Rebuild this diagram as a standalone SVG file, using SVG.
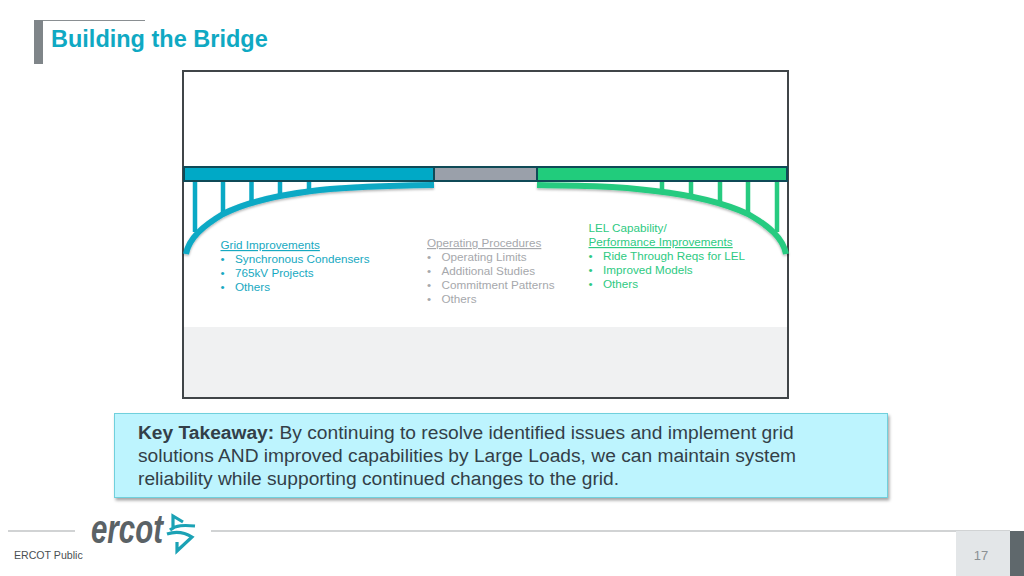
<svg xmlns="http://www.w3.org/2000/svg" width="1024" height="576" viewBox="0 0 1024 576">
<defs>
<style>
text{font-family:"Liberation Sans",Arial,sans-serif}
.l{font-size:11.700px}
.t{fill:#17a9c1}.g{fill:#a6a8ac}.e{fill:#2dca82}
.deck{stroke:#0f4a57;stroke-width:2}
.arch{fill:none;stroke-width:6}
.post{stroke-width:4.500;fill:none}
.k{font-size:19.200px;fill:#333f48}
</style>
<filter id="sh" x="-5%" y="-10%" width="110%" height="125%"><feDropShadow dx="1.500" dy="2.500" stdDeviation="1.500" flood-color="#000" flood-opacity=".35"/></filter>
<filter id="sh2" x="-5%" y="-20%" width="110%" height="150%"><feDropShadow dx="0" dy="1.500" stdDeviation="1" flood-color="#000" flood-opacity=".3"/></filter>
</defs>
<rect width="1024" height="576" fill="#fff"/>
<g id="title">
<rect x="34" y="20" width="9" height="44" fill="#7f8589"/>
<path d="M43 20.500H145" stroke="#8a8f92" stroke-width="1"/>
<text x="51" y="47" font-size="23.500" font-weight="700" fill="#0fa9c3">Building the Bridge</text>
</g>
<g id="frame">
<rect x="183" y="327" width="605" height="71" fill="#f0f1f2"/>
<rect x="183" y="71" width="605" height="327" fill="none" stroke="#404548" stroke-width="2"/>
</g>
<g id="connectors">
<g stroke="#0aa9c5" class="post">
<path d="M195 180V232M223 180V214M251.500 180V204M280 180V198M309 180V193"/>
</g>
<path class="arch" stroke="#0aa9c5" filter="url(#sh2)" d="M186 254C189 238 203 226 223 214C250 200 285 194 320 190C360 186 400 185.500 434 185"/>
<g stroke="#27cb80" class="post">
<path d="M662 180V193M691 180V199M720 180V205M748 180V214M777 180V232"/>
</g>
<path class="arch" stroke="#27cb80" filter="url(#sh2)" d="M786 254C783 238 769 226 748 214C722 202 690 195 655 191C615 186 575 185.500 537 185"/>
</g>
<g id="deck-left"><rect x="184" y="167" width="250" height="14" fill="#00a9c6" class="deck"/></g>
<g id="deck-middle"><rect x="434" y="167" width="103" height="14" fill="#9aa0aa" class="deck"/></g>
<g id="deck-right"><rect x="537" y="167" width="250" height="14" fill="#21cc7c" class="deck"/></g>
<g id="grid-improvements" class="l t">
<text x="220.500" y="249" text-decoration="underline">Grid Improvements</text>
<text x="220.500" y="263">•</text><text x="235" y="263">Synchronous Condensers</text>
<text x="220.500" y="277">•</text><text x="235" y="277">765kV Projects</text>
<text x="220.500" y="291">•</text><text x="235" y="291">Others</text>
</g>
<g id="operating-procedures" class="l g">
<text x="427" y="247" text-decoration="underline">Operating Procedures</text>
<text x="427" y="261">•</text><text x="441.500" y="261">Operating Limits</text>
<text x="427" y="275">•</text><text x="441.500" y="275">Additional Studies</text>
<text x="427" y="289">•</text><text x="441.500" y="289">Commitment Patterns</text>
<text x="427" y="303">•</text><text x="441.500" y="303">Others</text>
</g>
<g id="lel-capability" class="l e">
<text x="588.500" y="232">LEL Capability/</text>
<text x="588.500" y="246" text-decoration="underline">Performance Improvements</text>
<text x="588.500" y="260">•</text><text x="603" y="260">Ride Through Reqs for LEL</text>
<text x="588.500" y="274">•</text><text x="603" y="274">Improved Models</text>
<text x="588.500" y="288">•</text><text x="603" y="288">Others</text>
</g>
<g id="key-takeaway">
<rect x="114.500" y="413.500" width="773" height="84" fill="#bdf4fe" stroke="#6fd0dc" stroke-width="1" filter="url(#sh)"/>
<text class="k" x="138" y="439"><tspan font-weight="700">Key Takeaway:</tspan> By continuing to resolve identified issues and implement grid</text>
<text class="k" x="138" y="462">solutions AND improved capabilities by Large Loads, we can maintain system</text>
<text class="k" x="138" y="485">reliability while supporting continued changes to the grid.</text>
</g>
<g id="footer">
<path d="M8 531H75M211 531H1010" stroke="#a4a8aa" stroke-width="1.200"/>
<text x="91" y="542.500" font-size="41" font-style="italic" font-weight="700" fill="#5a6266" textLength="72" lengthAdjust="spacingAndGlyphs">ercot</text>
<path d="M183 522L173 516V527M170 530C176 525 184 525 195 526M167 534C176 531 184 532 192 537L177 551V542" fill="none" stroke="#1ba2b5" stroke-width="3.200"/>
<text x="14" y="559" font-size="10.600" fill="#4a4f52">ERCOT Public</text>
<rect x="956" y="531" width="54" height="45" fill="#e3e6e8"/>
<rect x="1010" y="531" width="14" height="45" fill="#5f686c"/>
<text x="981" y="560" font-size="13" fill="#8b9194" text-anchor="middle">17</text>
</g>
</svg>
